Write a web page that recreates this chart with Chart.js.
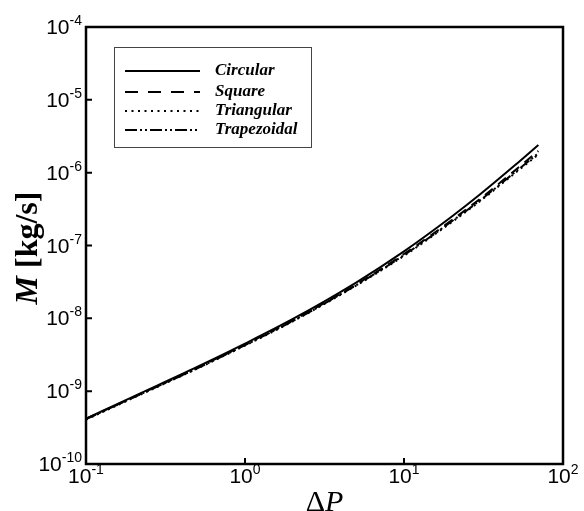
<!DOCTYPE html>
<html>
<head>
<meta charset="utf-8">
<script src="https://cdn.jsdelivr.net/npm/chart.js@4.4.1/dist/chart.umd.min.js"></script>
<style>
  html, body { margin: 0; padding: 0; background: #fff; }
  #wrap { width: 584px; height: 511px; }
</style>
</head>
<body>
<div id="wrap"><canvas id="chart" width="584" height="511"></canvas></div>
<script>
// pressure difference (x) and mass flow rate (y)
const deltaP = [0.1, 0.2, 0.5, 1, 2, 5, 10, 20, 30, 50, 70];
const circular    = [4.2e-10, 8.5e-10, 2.15e-9, 4.5e-9, 9.8e-9, 3.1e-8, 8.3e-8, 2.5e-7, 5.0e-7, 1.27e-6, 2.4e-6];
const square      = [4.16e-10, 8.33e-10, 2.09e-9, 4.37e-9, 9.4e-9, 2.91e-8, 7.64e-8, 2.23e-7, 4.35e-7, 1.08e-6, 1.99e-6];
const triangular  = [4.07e-10, 8.16e-10, 2.04e-9, 4.23e-9, 9.1e-9, 2.82e-8, 7.22e-8, 2.1e-7, 4.05e-7, 0.99e-6, 1.78e-6];
const trapezoidal = [4.12e-10, 8.25e-10, 2.06e-9, 4.28e-9, 9.2e-9, 2.85e-8, 7.39e-8, 2.15e-7, 4.15e-7, 1.02e-6, 1.85e-6];

const xTicks = [-1, 0, 1, 2];               // exponents of 10
const yTicks = [-10, -9, -8, -7, -6, -5, -4];

const seriesNames = ['Circular', 'Square', 'Triangular', 'Trapezoidal'];
const seriesData = [circular, square, triangular, trapezoidal];
const seriesDash = [[], [10, 7], [2, 4], [11, 3, 2, 3, 2, 3]];
const legendDash = [[], [13, 10], [2, 4.5], [12, 3, 2, 3, 2, 3]];

function toPoints(ys) {
    return deltaP.map((x, i) => ({ x: x, y: ys[i] }));
}

const datasets = seriesData.map((ys, i) => ({
    label: seriesNames[i],
    data: toPoints(ys),
    borderColor: '#000',
    borderWidth: 2,
    borderDash: seriesDash[i],
    pointRadius: 0,
    fill: false,
    cubicInterpolationMode: 'monotone'
}));

const SANS = '"Liberation Sans", Arial, sans-serif';
const SERIF = '"Liberation Serif", "Times New Roman", serif';

function drawPow(ctx, exp, x, y, mode) {
    // draws 10^exp; 'center' -> x is centre, y baseline; 'right' -> x is right edge, y tick centre
    ctx.save();
    ctx.fillStyle = '#000';
    ctx.textAlign = 'left';
    ctx.textBaseline = 'alphabetic';
    const base = '10', sup = String(exp);
    ctx.font = '21px ' + SANS;
    const wb = ctx.measureText(base).width;
    ctx.font = '14px ' + SANS;
    const ws = ctx.measureText(sup).width;
    let x0, yb;
    if (mode === 'center') {
        x0 = x - (wb + ws) / 2;
        yb = y;
    } else {
        x0 = x - (wb + ws);
        yb = y + 7;
    }
    ctx.font = '21px ' + SANS;
    ctx.fillText(base, x0, yb);
    ctx.font = '14px ' + SANS;
    ctx.fillText(sup, x0 + wb, yb - 9);
    ctx.restore();
}

const decorations = {
    id: 'decorations',
    afterDraw(chart) {
        const ctx = chart.ctx;
        const a = chart.chartArea;
        const xs = chart.scales.x, ys = chart.scales.y;

        // frame
        ctx.save();
        ctx.strokeStyle = '#000';
        ctx.lineWidth = 2.5;
        ctx.strokeRect(a.left, a.top, a.right - a.left, a.bottom - a.top);

        // inner ticks on bottom and left
        ctx.lineWidth = 2;
        ctx.beginPath();
        xTicks.forEach(e => {
            const px = xs.getPixelForValue(Math.pow(10, e));
            ctx.moveTo(px, a.bottom);
            ctx.lineTo(px, a.bottom - 6);
        });
        yTicks.forEach(e => {
            const py = ys.getPixelForValue(Math.pow(10, e));
            ctx.moveTo(a.left, py);
            ctx.lineTo(a.left + 6, py);
        });
        ctx.stroke();
        ctx.restore();

        // tick labels
        xTicks.forEach(e => drawPow(ctx, e, xs.getPixelForValue(Math.pow(10, e)), a.bottom + 19, 'center'));
        yTicks.forEach(e => drawPow(ctx, e, a.left - 4, ys.getPixelForValue(Math.pow(10, e)), 'right'));

        // x title: ΔP
        ctx.save();
        ctx.fillStyle = '#000';
        ctx.textBaseline = 'alphabetic';
        ctx.textAlign = 'left';
        ctx.font = '30px ' + SERIF;
        const wd = ctx.measureText('\u0394').width;
        ctx.font = 'italic 30px ' + SERIF;
        const wp = ctx.measureText('P').width;
        const cx = (a.left + a.right) / 2;
        const sx = cx - (wd + wp) / 2;
        ctx.font = '30px ' + SERIF;
        ctx.fillText('\u0394', sx, 511);
        ctx.font = 'italic 30px ' + SERIF;
        ctx.fillText('P', sx + wd, 511);
        ctx.restore();

        // y title: M [kg/s]
        ctx.save();
        ctx.fillStyle = '#000';
        ctx.translate(37, 248);
        ctx.rotate(-Math.PI / 2);
        ctx.textBaseline = 'alphabetic';
        ctx.textAlign = 'left';
        ctx.font = 'bold italic 32px ' + SERIF;
        const wm = ctx.measureText('M').width;
        ctx.font = 'bold 32px ' + SERIF;
        const wr = ctx.measureText(' [kg/s]').width;
        const tx = -(wm + wr) / 2;
        ctx.font = 'bold italic 32px ' + SERIF;
        ctx.fillText('M', tx, 0);
        ctx.font = 'bold 32px ' + SERIF;
        ctx.fillText(' [kg/s]', tx + wm, 0);
        ctx.restore();

        // legend box
        ctx.save();
        ctx.strokeStyle = '#444';
        ctx.lineWidth = 1;
        ctx.strokeRect(114.5, 47.5, 197, 100);
        const rows = [71, 92, 111, 130];
        ctx.font = 'bold italic 17px ' + SERIF;
        ctx.fillStyle = '#000';
        ctx.textBaseline = 'middle';
        ctx.textAlign = 'left';
        seriesNames.forEach((name, i) => {
            ctx.strokeStyle = '#000';
            ctx.lineWidth = 2;
            ctx.setLineDash(legendDash[i]);
            ctx.beginPath();
            ctx.moveTo(125, rows[i]);
            ctx.lineTo(200, rows[i]);
            ctx.stroke();
            ctx.setLineDash([]);
            ctx.fillText(name, 215, rows[i]);
        });
        ctx.restore();
    }
};

new Chart(document.getElementById('chart').getContext('2d'), {
    type: 'line',
    data: { datasets: datasets },
    options: {
        responsive: false,
        animation: false,
        layout: { padding: { left: 86, right: 21, top: 27, bottom: 47 } },
        plugins: {
            legend: { display: false },
            tooltip: { enabled: false }
        },
        scales: {
            x: { type: 'logarithmic', min: 0.1, max: 100, display: false },
            y: { type: 'logarithmic', min: 1e-10, max: 1e-4, display: false }
        }
    },
    plugins: [decorations]
});
</script>
</body>
</html>
